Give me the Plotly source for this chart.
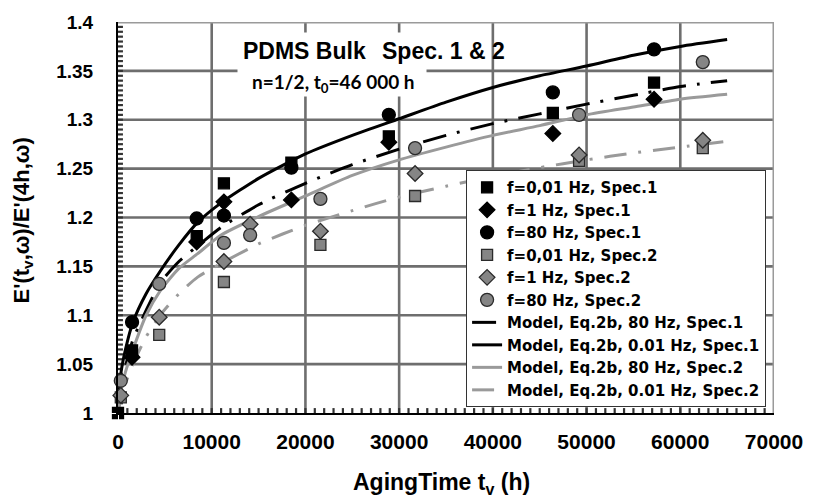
import plotly.graph_objects as go

# ---------------- data ----------------
x_spec1 = [0, 1500, 8400, 11300, 18500, 28900, 46400, 57200]
f001_spec1 = [1.000, 1.064, 1.181, 1.235, 1.256, 1.283, 1.307, 1.338]
f1_spec1 = [None, 1.057, 1.175, 1.216, 1.218, 1.277, 1.286, 1.321]
f80_spec1 = [None, 1.093, 1.199, 1.202, 1.251, 1.305, 1.328, 1.372]

x_spec2 = [300, 4400, 11300, 14100, 21600, 31700, 49200, 62400]
f001_spec2 = [1.016, 1.080, 1.134, None, 1.172, 1.222, 1.258, 1.271]
f1_spec2 = [1.018, 1.098, 1.155, 1.193, 1.186, 1.245, 1.264, 1.279]
f80_spec2 = [1.033, 1.132, 1.174, 1.182, 1.219, 1.271, 1.305, 1.359]

model_t = [4, 300, 800, 1600, 3000, 4500, 6500, 8500, 11000, 15000, 20000,
           25000, 30000, 35000, 40000, 45000, 50000, 55000, 60000, 65000]
model_80_spec1 = [1.0, 1.028, 1.048, 1.075, 1.105, 1.133, 1.155, 1.171, 1.190, 1.213, 1.235,
                  1.254, 1.270, 1.284, 1.296, 1.306, 1.316, 1.325, 1.334, 1.340]
model_001_spec1 = [1.0, 1.040, 1.065, 1.093, 1.122, 1.145, 1.172, 1.195, 1.215, 1.240, 1.265,
                   1.284, 1.301, 1.318, 1.333, 1.345, 1.355, 1.366, 1.375, 1.382]
model_80_spec2 = [1.0, 1.022, 1.042, 1.065, 1.100, 1.125, 1.148, 1.163, 1.182, 1.201, 1.222,
                  1.243, 1.259, 1.272, 1.284, 1.294, 1.305, 1.313, 1.321, 1.326]
model_001_spec2 = [1.0, 1.015, 1.030, 1.050, 1.078, 1.100, 1.122, 1.139, 1.153, 1.173, 1.192,
                   1.207, 1.221, 1.232, 1.242, 1.251, 1.259, 1.266, 1.272, 1.278]

# axes: ranges, tick values and tick labels
x_range = [0, 70000]
x_tickvals = [0, 10000, 20000, 30000, 40000, 50000, 60000, 70000]
x_ticktext = ["0", "10000", "20000", "30000", "40000", "50000", "60000", "70000"]
x_minor_step = 1000
y_range = [1.0, 1.4]
y_tickvals = [1, 1.05, 1.1, 1.15, 1.2, 1.25, 1.3, 1.35, 1.4]
y_ticktext = ["1", "1.05", "1.1", "1.15", "1.2", "1.25", "1.3", "1.35", "1.4"]
y_minor_step = 0.005

# ---------------- styling ----------------
W, H = 815, 503
ML, MR, MT, MB = 118, 34, 15, 90
PW, PH = W - ML - MR, H - MT - MB

BLACK = "#000000"
GREY_M = "#858585"
GREY_L = "#9a9a9a"
FONT = "Liberation Sans, Arial, sans-serif"


def px(x):
    return (x - ML) / PW


def py(y):
    return (MT + PH - y) / PH


fig = go.Figure()

# --- grid lines built from the tick value lists (line trace) ---
gx, gy = [], []
for v in x_tickvals[1:-1]:
    gx += [v, v, None]
    gy += [y_range[0], y_range[1], None]
for v in y_tickvals[1:-1]:
    gx += [x_range[0], x_range[1], None]
    gy += [v, v, None]
fig.add_trace(go.Scatter(x=gx, y=gy, mode="lines", showlegend=False, connectgaps=False,
                         line=dict(color="#6e6e6e", width=2.6)))

# --- minor inside ticks (5 px long), built from the minor step ---
tlx = 5 * (x_range[1] - x_range[0]) / PW
tly = 5 * (y_range[1] - y_range[0]) / PH
mx, my = [], []
n_x = int(round((x_range[1] - x_range[0]) / x_minor_step))
for i in range(1, n_x):
    v = x_range[0] + i * x_minor_step
    mx += [v, v, None]
    my += [y_range[0], y_range[0] + tly, None]
n_y = int(round((y_range[1] - y_range[0]) / y_minor_step))
for i in range(1, n_y):
    v = y_range[0] + i * y_minor_step
    mx += [x_range[0], x_range[0] + tlx, None]
    my += [v, v, None]
fig.add_trace(go.Scatter(x=mx, y=my, mode="lines", showlegend=False, connectgaps=False,
                         line=dict(color="#333333", width=2.2)))

# --- grey top / right frame ---
fig.add_trace(go.Scatter(x=[x_range[0], x_range[1], x_range[1]],
                         y=[y_range[1], y_range[1], y_range[0]],
                         mode="lines", showlegend=False,
                         line=dict(color="#9a9a9a", width=3)))

# --- model curves ---
models = [
    ("Model, Eq.2b, 80 Hz, Spec.1", model_80_spec1, BLACK, "24px,11px,3px,11px", 7),
    ("Model, Eq.2b, 0.01 Hz, Spec.1", model_001_spec1, BLACK, "solid", 8),
    ("Model, Eq.2b, 80 Hz, Spec.2", model_80_spec2, GREY_L, "solid", 9),
    ("Model, Eq.2b, 0.01 Hz, Spec.2", model_001_spec2, GREY_L, "22px,12px,3px,12px", 10),
]
for name, ys, col, dash, rank in models:
    fig.add_trace(go.Scatter(
        x=model_t, y=ys, name=name, mode="lines", legendrank=rank,
        line=dict(color=col, width=3, dash=dash, shape="spline", smoothing=0.6),
    ))

# --- measured points ---
markers = [
    ("f=0,01 Hz, Spec.1", x_spec1, f001_spec1, "square", 11, BLACK, BLACK, 1),
    ("f=1 Hz, Spec.1", x_spec1, f1_spec1, "diamond", 12, BLACK, BLACK, 2),
    ("f=80 Hz, Spec.1", x_spec1, f80_spec1, "circle", 13, BLACK, BLACK, 3),
    ("f=0,01 Hz, Spec.2", x_spec2, f001_spec2, "square", 11, GREY_M, "#2a2a2a", 4),
    ("f=1 Hz, Spec.2", x_spec2, f1_spec2, "diamond", 12, GREY_M, "#2a2a2a", 5),
    ("f=80 Hz, Spec.2", x_spec2, f80_spec2, "circle", 13, GREY_M, "#2a2a2a", 6),
]
for name, xs, ys, sym, size, col, lcol, rank in markers:
    fig.add_trace(go.Scatter(
        x=xs, y=ys, name=name, mode="markers", legendrank=rank, cliponaxis=False,
        marker=dict(symbol=sym, size=size, color=col, line=dict(color=lcol, width=1.3)),
    ))

fig.update_layout(
    width=W, height=H,
    margin=dict(l=ML, r=MR, t=MT, b=MB),
    paper_bgcolor="white", plot_bgcolor="rgba(0,0,0,0)",
    showlegend=True,
    xaxis=dict(
        range=x_range, tickmode="array", tickvals=x_tickvals, ticktext=x_ticktext,
        showgrid=True, gridcolor="#3c3c3c", gridwidth=1, zeroline=False,
        showline=True, linecolor=BLACK, linewidth=2, mirror=False,
        ticks="outside", ticklen=9, tickwidth=1, tickcolor="white",
        tickfont=dict(family=FONT, size=21, color=BLACK, weight="bold"),
    ),
    yaxis=dict(
        range=y_range, tickmode="array", tickvals=y_tickvals, ticktext=y_ticktext,
        showgrid=True, gridcolor="#3c3c3c", gridwidth=1, zeroline=False,
        showline=True, linecolor=BLACK, linewidth=2, mirror=False,
        ticks="outside", ticklen=19, tickwidth=1, tickcolor="white",
        tickfont=dict(family=FONT, size=19, color=BLACK, weight="bold"),
    ),
    legend=dict(
        x=px(773), y=py(407), xanchor="right", yanchor="bottom",
        bgcolor="white", bordercolor="#333333", borderwidth=1,
        font=dict(family="DejaVu Sans", size=15, color=BLACK, weight="bold"),
        itemwidth=30, tracegroupgap=0,
    ),
)

# white box behind the annotation text (empty annotation)
fig.add_annotation(xref="paper", yref="paper", x=px(334), y=py(58.5),
                   xanchor="center", yanchor="middle", showarrow=False,
                   text=" ", width=188, height=63, bgcolor="white", borderpad=0,
                   font=dict(size=10))

fig.add_annotation(xref="paper", yref="paper", x=px(242), y=py(45),
                   xanchor="left", yanchor="middle", showarrow=False,
                   text="PDMS Bulk", font=dict(family=FONT, size=23, color=BLACK, weight="bold"))
fig.add_annotation(xref="paper", yref="paper", x=px(383), y=py(45),
                   xanchor="left", yanchor="middle", showarrow=False,
                   text="Spec. 1 &amp; 2", font=dict(family=FONT, size=23, color=BLACK, weight="bold"))
fig.add_annotation(xref="paper", yref="paper", x=px(251), y=py(77),
                   xanchor="left", yanchor="middle", showarrow=False,
                   text="n=1/2, t<sub>0</sub>=46 000 h",
                   font=dict(family="Lato, Liberation Sans, sans-serif", size=19, color=BLACK, weight="bold"))

# axis titles
fig.add_annotation(xref="paper", yref="paper", x=px(445), y=py(485),
                   xanchor="center", yanchor="middle", showarrow=False,
                   text="AgingTime t<sub>v</sub> (h)",
                   font=dict(family=FONT, size=23, color=BLACK, weight="bold"))
fig.add_annotation(xref="paper", yref="paper", x=px(22), y=py(217),
                   xanchor="center", yanchor="middle", showarrow=False, textangle=-90,
                   text="E'(t<sub>v</sub>,ω)/E'(4h,ω)",
                   font=dict(family=FONT, size=22, color=BLACK, weight="bold"))

fig.write_html("out.html")
